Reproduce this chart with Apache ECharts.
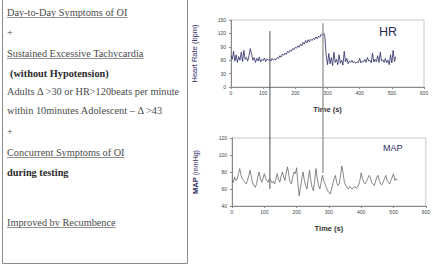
<!DOCTYPE html>
<html>
<head>
<meta charset="utf-8">
<script src="https://cdn.jsdelivr.net/npm/echarts@6/dist/echarts.min.js"></script>
<style>
html, body { margin: 0; padding: 0; background: #fff; }
#chart { width: 433px; height: 264px; }
</style>
</head>
<body>
<div id="chart"></div>
<script>
// heart rate trace, sampled every 4 s (bpm)
const hrTimes = [];
for (let t = 0; t <= 512; t += 4) hrTimes.push(t);
const hrValues = [
	70, 62, 80, 58, 72, 55, 68, 60, 78, 57, 82, 62, 66, 58, 70, 86, 74, 60, 66, 55,
	64, 58, 67, 56, 62, 59, 65, 57, 63, 60, 62, 58, 64, 60, 63, 61, 66, 64, 70, 67,
	74, 71, 76, 73, 80, 77, 83, 80, 86, 84, 89, 87, 92, 89, 96, 92, 100, 96, 104, 99,
	106, 101, 107, 104, 109, 106, 112, 108, 114, 111, 118, 115, 121, 112, 70, 50, 75, 52, 66, 48,
	78, 55, 62, 50, 72, 53, 60, 49, 80, 56, 64, 52, 58, 55, 60, 54, 57, 53, 56, 55,
	64, 54, 58, 56, 62, 55, 66, 58, 60, 54, 76, 56, 62, 57, 70, 55, 78, 58, 61, 55,
	64, 54, 60, 50, 72, 54, 82, 57, 68
];

// mean arterial pressure trace, sampled every 4 s (mmHg)
const mapTimes = hrTimes;
const mapValues = [
	70, 68, 74, 70, 72, 78, 84, 76, 72, 70, 68, 66, 70, 76, 82, 74, 67, 64, 62, 66,
	74, 80, 72, 68, 72, 78, 73, 70, 68, 72, 70, 67, 69, 66, 72, 78, 71, 68, 75, 80,
	74, 70, 80, 86, 76, 68, 66, 74, 80, 78, 85, 66, 52, 62, 72, 80, 70, 64, 60, 72,
	82, 70, 62, 58, 70, 84, 72, 64, 60, 68, 76, 70, 66, 62, 58, 56, 54, 60, 66, 72,
	76, 68, 64, 66, 76, 87, 78, 68, 64, 62, 60, 63, 61, 60, 62, 63, 61, 62, 65, 70,
	79, 72, 68, 66, 69, 72, 76, 74, 68, 66, 64, 68, 74, 76, 70, 66, 65, 68, 72, 76,
	70, 68, 66, 70, 74, 78, 70, 72, 70
];

// the two event markers spanning both panels: time, top (HR bpm), bottom (MAP mmHg)
const markerTimes = [121, 286];
const markerHrTop = [125, 143];
const markerMapBottom = [60, 79];

const hrTicks = [0, 30, 60, 90, 120, 150];
const mapTicks = [40, 60, 80, 100, 120];
const timeTicks = [0, 100, 200, 300, 400, 500, 600];

const boxLines = [
	{text: 'Day-to-Day Symptoms of OI', y: 12, underline: true},
	{text: '+', y: 32},
	{text: 'Sustained Excessive Tachycardia', y: 53, underline: true},
	{text: '(without Hypotension)', y: 73, bold: true, x: 10},
	{text: 'Adults \u0394 >30 or HR>120beats per minute', y: 91},
	{text: 'within 10minutes Adolescent \u2013 \u0394 >43', y: 110},
	{text: '+', y: 131},
	{text: 'Concurrent Symptoms of OI', y: 152, underline: true},
	{text: 'during testing', y: 172, bold: true},
	{text: 'Improved by Recumbence', y: 222, underline: true},
];

const serif = '"Liberation Serif", "Times New Roman", serif';
const sans = '"Liberation Sans", Arial, sans-serif';
const boxFontSize = 10.3;

const measureCtx = document.createElement('canvas').getContext('2d');
function textWidth(str, font) {
	measureCtx.font = font;
	return measureCtx.measureText(str).width;
}

function valueAxis(ticks, name, grid, nameStyle) {
	return {
		type: 'value',
		gridIndex: grid,
		min: ticks[0],
		max: ticks[ticks.length - 1],
		interval: ticks[1] - ticks[0],
		name: name,
		nameLocation: 'middle',
		nameGap: 33,
		nameTextStyle: nameStyle,
		axisLine: {show: true, lineStyle: {color: '#888', width: 1}},
		axisTick: {show: true, length: 2, lineStyle: {color: '#888'}},
		axisLabel: {fontSize: 5, color: '#444', fontFamily: sans, margin: 5},
		splitLine: {show: false},
	};
}

function timeAxis(grid) {
	return {
		type: 'value',
		gridIndex: grid,
		min: timeTicks[0],
		max: timeTicks[timeTicks.length - 1],
		interval: 100,
		name: 'Time (s)',
		nameLocation: 'middle',
		nameGap: 18,
		nameTextStyle: {fontSize: 7.5, fontWeight: 'bold', color: '#333', fontFamily: sans},
		axisLine: {show: true, lineStyle: {color: '#888', width: 1}},
		axisTick: {show: true, length: 2, lineStyle: {color: '#888'}},
		axisLabel: {fontSize: 5, color: '#444', fontFamily: sans, margin: 3},
		splitLine: {show: false},
	};
}

const chart = echarts.init(document.getElementById('chart'), null, {renderer: 'svg'});

chart.setOption({
	animation: false,
	backgroundColor: '#fff',
	grid: [
		{left: 231, top: 20, width: 193, height: 67, show: true, borderColor: '#c8c8c8', borderWidth: 1},
		{left: 232, top: 138, width: 197, height: 68, show: true, borderColor: '#c8c8c8', borderWidth: 1},
	],
	xAxis: [timeAxis(0), timeAxis(1)],
	yAxis: [
		valueAxis(hrTicks, 'Heart Rate (bpm)', 0,
			{fontSize: 7.5, color: '#2b2b5e', fontFamily: sans}),
		valueAxis(mapTicks, '{b|MAP} (mmHg)', 1,
			{fontSize: 7, color: '#2b2b5e', fontFamily: sans,
			 rich: {b: {fontSize: 7.5, fontWeight: 'bold', color: '#2b2b5e', fontFamily: sans}}}),
	],
	series: [
		{
			type: 'line', xAxisIndex: 0, yAxisIndex: 0, symbol: 'none',
			data: hrTimes.map((t, i) => [t, hrValues[i]]),
			lineStyle: {color: '#2a2a66', width: 0.8},
		},
		{
			type: 'line', xAxisIndex: 1, yAxisIndex: 1, symbol: 'none',
			data: mapTimes.map((t, i) => [t, mapValues[i]]),
			lineStyle: {color: '#555', width: 0.7},
		},
	],
});

const graphics = [];

// left text box
graphics.push({
	type: 'rect', silent: true,
	shape: {x: 2.5, y: -2, width: 185, height: 265.5},
	style: {fill: 'none', stroke: '#8a8a8a', lineWidth: 1},
});
for (const line of boxLines) {
	const x = line.x || 7;
	const font = (line.bold ? 'bold ' : '') + boxFontSize + 'px ' + serif;
	graphics.push({
		type: 'text', silent: true, x: x, y: line.y,
		style: {
			text: line.text, fill: line.bold ? '#2a2a2a' : '#4a4a4a', fontSize: boxFontSize, fontFamily: serif,
			fontWeight: line.bold ? 'bold' : 'normal', verticalAlign: 'middle', align: 'left',
		},
	});
	if (line.underline) {
		const w = textWidth(line.text, font);
		graphics.push({
			type: 'line', silent: true,
			shape: {x1: x, y1: line.y + 5.5, x2: x + w, y2: line.y + 5.5},
			style: {stroke: '#777', lineWidth: 0.8},
		});
	}
}

// panel labels
graphics.push({
	type: 'text', silent: true, x: 379, y: 32,
	style: {text: 'HR', fill: '#2b2b5e', fontSize: 12.5, fontFamily: sans, verticalAlign: 'middle'},
});
graphics.push({
	type: 'text', silent: true, x: 383, y: 148,
	style: {text: 'MAP', fill: '#2b2b5e', fontSize: 9, fontFamily: sans, verticalAlign: 'middle'},
});

// event markers, placed through the axes' scales
const markerColors = ['#505050', '#9a9a9a'];
const markerWidths = [1, 1.4];
markerTimes.forEach((t, i) => {
	const top = chart.convertToPixel({xAxisIndex: 0, yAxisIndex: 0}, [t, markerHrTop[i]]);
	const bottom = chart.convertToPixel({xAxisIndex: 1, yAxisIndex: 1}, [t, markerMapBottom[i]]);
	graphics.push({
		type: 'line', silent: true, z: 10,
		shape: {x1: top[0], y1: top[1], x2: top[0], y2: bottom[1]},
		style: {stroke: markerColors[i], lineWidth: markerWidths[i]},
	});
});

chart.setOption({graphic: graphics});
</script>
</body>
</html>
